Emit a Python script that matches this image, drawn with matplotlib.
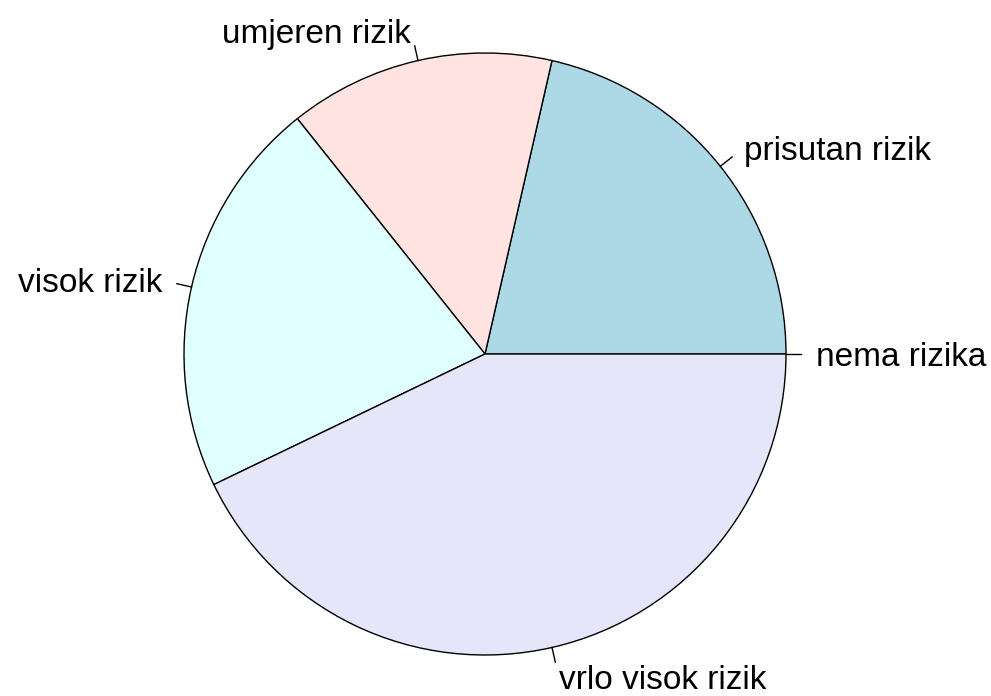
import numpy as np
import matplotlib
matplotlib.use("Agg")
import matplotlib.pyplot as plt

labels = ["nema rizika", "prisutan rizik", "umjeren rizik", "visok rizik", "vrlo visok rizik"]
values = [0, 6, 4, 6, 12]
colors = ["white", "#ADD8E6", "#FFE4E1", "#E0FFFF", "#E6E6FA"]

W, H = 991, 696
fig = plt.figure(figsize=(W / 100, H / 100), dpi=100)
ax = fig.add_axes([0, 0, 1, 1])
ax.set_xlim(0, W)
ax.set_ylim(0, H)
ax.axis("off")

cx, cy, r = 485, H - 354, 301

ax.pie(values, colors=colors, startangle=0, counterclock=True,
       center=(cx, cy), radius=r, frame=True,
       wedgeprops=dict(edgecolor="black", linewidth=1.0))
ax.set_xlim(0, W)
ax.set_ylim(0, H)
ax.axis("off")

total = sum(values)
cum = np.cumsum([0] + values) / total * 360
for i, lab in enumerate(labels):
    mid = np.deg2rad((cum[i] + cum[i + 1]) / 2)
    x, y = np.cos(mid), np.sin(mid)
    ax.plot([cx + r * x, cx + 1.05 * r * x], [cy + r * y, cy + 1.05 * r * y],
            color="black", lw=1.0)
    ax.text(cx + 1.1 * r * x, cy + 1.1 * r * y, lab,
            ha="left" if x >= 0 else "right", va="center_baseline",
            fontsize=24, family=["Liberation Sans", "DejaVu Sans"], color="black")

fig.savefig("out.png", dpi=100)
